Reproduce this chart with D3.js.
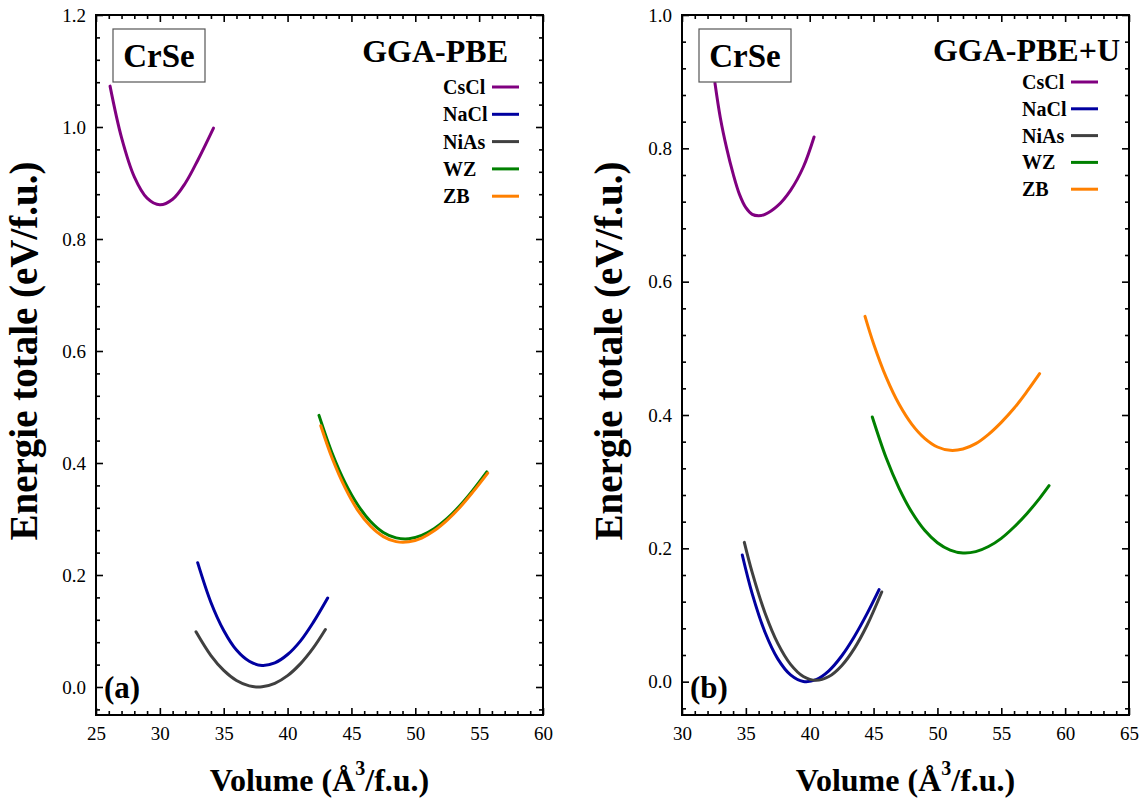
<!DOCTYPE html>
<html>
<head>
<meta charset="utf-8">
<script src="https://cdn.jsdelivr.net/npm/d3@7"></script>
<style>
  html, body { margin: 0; padding: 0; background: #fff; }
  svg { display: block; font-family: "Liberation Serif", "Times New Roman", serif; }
</style>
</head>
<body>
<svg id="chart" width="1146" height="802"></svg>
<script>
// Crystal structures, in legend order
const structures = ["CsCl", "NaCl", "NiAs", "WZ", "ZB"];
const structureColors = ["#800080", "#0000a0", "#404040", "#008000", "#ff8000"];

// (a) GGA-PBE : [volume (Å³/f.u.), total energy (eV/f.u.)]
const pbeCsCl = [[26.1,1.073],[27,0.981],[28,0.911],[29,0.873],[30,0.861],[31,0.871],[32,0.900],[33,0.942],[34.2,0.998]];
const pbeNaCl = [[32.96,0.222],[34,0.151],[35,0.101],[36,0.066],[37,0.046],[38,0.0385],[39,0.043],[40,0.058],[41,0.082],[42,0.115],[43.14,0.159]];
const pbeNiAs = [[32.83,0.0985],[34,0.056],[35,0.0296],[36,0.0116],[37,0.002],[38,0.0004],[39,0.0066],[40,0.0203],[41,0.0413],[42,0.0693],[42.96,0.1026]];
const pbeWZ   = [[42.46,0.485],[43.5,0.417],[44.5,0.365],[45.5,0.325],[46.5,0.2955],[47.5,0.276],[48.5,0.2663],[49.5,0.2647],[50.5,0.2706],[51.5,0.283],[52.5,0.301],[53.5,0.324],[54.5,0.351],[55.6,0.384]];
const pbeZB   = [[42.6,0.4666],[43.5,0.408],[44.5,0.356],[45.5,0.3155],[46.5,0.287],[47.5,0.2686],[48.5,0.2596],[49.5,0.2592],[50.5,0.266],[51.5,0.2793],[52.5,0.298],[53.5,0.321],[54.5,0.348],[55.67,0.382]];

// (b) GGA-PBE+U
const pbeuCsCl = [[32.58,0.898],[33,0.846],[33.5,0.800],[34,0.762],[34.5,0.731],[35,0.711],[35.5,0.701],[36,0.699],[36.5,0.701],[37.5,0.714],[38.5,0.737],[39.5,0.772],[40.34,0.817]];
const pbeuNaCl = [[34.72,0.190],[35.5,0.1317],[36.5,0.0741],[37.5,0.0342],[38.5,0.0102],[39.5,0.0004],[40.5,0.0031],[41.5,0.0163],[42.5,0.0385],[43.5,0.0678],[44.5,0.1024],[45.43,0.138]];
const pbeuNiAs = [[34.88,0.209],[35.5,0.1635],[36.5,0.103],[37.5,0.0574],[38.5,0.026],[39.5,0.0078],[40.5,0.002],[41.5,0.0077],[42.5,0.024],[43.5,0.050],[44.5,0.085],[45.64,0.1345]];
const pbeuWZ   = [[44.9,0.397],[46,0.335],[47,0.290],[48,0.254],[49,0.227],[50,0.2084],[51,0.1973],[52,0.193],[53,0.195],[54,0.2027],[55,0.215],[56,0.232],[57,0.252],[58,0.275],[58.74,0.294]];
const pbeuZB   = [[44.33,0.548],[45,0.507],[46,0.456],[47,0.416],[48,0.386],[49,0.365],[50,0.352],[51,0.347],[52,0.349],[53,0.357],[54,0.371],[55,0.389],[56,0.410],[57,0.435],[58,0.462]];

// Axis ticks
const xTicksA = [25, 30, 35, 40, 45, 50, 55, 60];
const yTicksA = [0.0, 0.2, 0.4, 0.6, 0.8, 1.0, 1.2];
const xTicksB = [30, 35, 40, 45, 50, 55, 60, 65];
const yTicksB = [0.0, 0.2, 0.4, 0.6, 0.8, 1.0];

const svg = d3.select("#chart");
const FONT = "'Liberation Serif', 'Times New Roman', serif";

function range(a, b, step) {
  const out = [];
  const n = Math.round((b - a) / step);
  for (let i = 0; i <= n; i++) out.push(+(a + i * step).toFixed(6));
  return out;
}

function drawPanel(p) {
  const g = svg.append("g");
  const x = d3.scaleLinear().domain(p.xDomain).range([p.left, p.right]);
  const y = d3.scaleLinear().domain(p.yDomain).range([p.bottom, p.top]);

  const xMinor = range(p.xDomain[0], p.xDomain[1], 1).filter(v => !p.xTicks.includes(v));
  const yMinor = range(-0.04, p.yDomain[1], 0.04).filter(v => !p.yTicks.some(t => Math.abs(t - v) < 1e-6));

  const styleAxis = sel => {
    sel.select(".domain").remove();
    sel.selectAll("line").attr("stroke", "#000").attr("stroke-width", 1.6);
  };
  const styleLabels = sel => sel.selectAll("text")
    .attr("font-family", FONT).attr("font-size", 19).attr("fill", "#000");

  // inward ticks on all four sides
  g.append("g").attr("transform", `translate(0,${p.bottom})`)
    .call(d3.axisBottom(x).tickValues(p.xTicks).tickSize(-7).tickFormat(d3.format("d")).tickPadding(12))
    .call(styleAxis).call(styleLabels);
  g.append("g").attr("transform", `translate(0,${p.bottom})`)
    .call(d3.axisBottom(x).tickValues(xMinor).tickSize(-4).tickFormat(""))
    .call(styleAxis);
  g.append("g").attr("transform", `translate(0,${p.top})`)
    .call(d3.axisTop(x).tickValues(p.xTicks).tickSize(-7).tickFormat(""))
    .call(styleAxis);
  g.append("g").attr("transform", `translate(0,${p.top})`)
    .call(d3.axisTop(x).tickValues(xMinor).tickSize(-4).tickFormat(""))
    .call(styleAxis);

  g.append("g").attr("transform", `translate(${p.left},0)`)
    .call(d3.axisLeft(y).tickValues(p.yTicks).tickSize(-7).tickFormat(d3.format(".1f")).tickPadding(10))
    .call(styleAxis).call(styleLabels);
  g.append("g").attr("transform", `translate(${p.left},0)`)
    .call(d3.axisLeft(y).tickValues(yMinor).tickSize(-4).tickFormat(""))
    .call(styleAxis);
  g.append("g").attr("transform", `translate(${p.right},0)`)
    .call(d3.axisRight(y).tickValues(p.yTicks).tickSize(-7).tickFormat(""))
    .call(styleAxis);
  g.append("g").attr("transform", `translate(${p.right},0)`)
    .call(d3.axisRight(y).tickValues(yMinor).tickSize(-4).tickFormat(""))
    .call(styleAxis);

  // frame
  g.append("rect")
    .attr("x", p.left).attr("y", p.top)
    .attr("width", p.right - p.left).attr("height", p.bottom - p.top)
    .attr("fill", "none").attr("stroke", "#000").attr("stroke-width", 2);

  // E(V) curves
  const line = d3.line().x(d => x(d[0])).y(d => y(d[1])).curve(d3.curveCatmullRom.alpha(0.5));
  p.series.forEach((s, i) => {
    g.append("path").datum(s)
      .attr("d", line)
      .attr("fill", "none")
      .attr("stroke", structureColors[i])
      .attr("stroke-width", 3)
      .attr("stroke-linecap", "round");
  });

  // compound box
  g.append("rect")
    .attr("x", p.left + 17).attr("y", p.top + 14)
    .attr("width", 92).attr("height", 53)
    .attr("fill", "#fff").attr("stroke", "#555").attr("stroke-width", 1.2);
  g.append("text")
    .attr("x", p.left + 17 + 46).attr("y", p.top + 52)
    .attr("text-anchor", "middle")
    .attr("font-family", FONT).attr("font-weight", "bold").attr("font-size", 33)
    .text("CrSe");

  // method title
  g.append("text")
    .attr("x", p.titleX).attr("y", p.titleY)
    .attr("text-anchor", "end")
    .attr("font-family", FONT).attr("font-weight", "bold").attr("font-size", 32)
    .text(p.title);

  // legend
  structures.forEach((name, i) => {
    const cy = p.legendY + i * p.legendStep;
    g.append("text")
      .attr("x", p.legendX).attr("y", cy + 7)
      .attr("font-family", FONT).attr("font-weight", "bold").attr("font-size", 20)
      .text(name);
    g.append("line")
      .attr("x1", p.legendLineX).attr("x2", p.legendLineX + 27)
      .attr("y1", cy).attr("y2", cy)
      .attr("stroke", structureColors[i]).attr("stroke-width", 3);
  });

  // panel letter
  g.append("text")
    .attr("x", p.left + 8).attr("y", p.bottom - 17)
    .attr("font-family", FONT).attr("font-weight", "bold").attr("font-size", 31)
    .text(p.letter);

  // axis titles
  const xt = g.append("text")
    .attr("x", (p.left + p.right) / 2).attr("y", 791)
    .attr("text-anchor", "middle")
    .attr("font-family", FONT).attr("font-weight", "bold").attr("font-size", 32);
  xt.append("tspan").text("Volume (Å");
  xt.append("tspan").attr("font-size", 20).attr("dy", -16).text("3");
  xt.append("tspan").attr("dy", 16).text("/f.u.)");

  g.append("text")
    .attr("transform", `translate(${p.yTitleX},${(p.top + p.bottom) / 2 - 14}) rotate(-90)`)
    .attr("text-anchor", "middle")
    .attr("font-family", FONT).attr("font-weight", "bold").attr("font-size", 39)
    .text("Energie totale (eV/f.u.)");
}

drawPanel({
  left: 96, right: 543, top: 15, bottom: 715,
  xDomain: [25, 60], yDomain: [-0.05, 1.2],
  xTicks: xTicksA, yTicks: yTicksA,
  series: [pbeCsCl, pbeNaCl, pbeNiAs, pbeWZ, pbeZB],
  title: "GGA-PBE", titleX: 508, titleY: 62,
  legendX: 443, legendLineX: 492, legendY: 87, legendStep: 27.3,
  letter: "(a)", yTitleX: 37
});

drawPanel({
  left: 682, right: 1129, top: 15, bottom: 715,
  xDomain: [30, 65], yDomain: [-0.05, 1.0],
  xTicks: xTicksB, yTicks: yTicksB,
  series: [pbeuCsCl, pbeuNaCl, pbeuNiAs, pbeuWZ, pbeuZB],
  title: "GGA-PBE+U", titleX: 1120, titleY: 61,
  legendX: 1022, legendLineX: 1071, legendY: 82, legendStep: 26.8,
  letter: "(b)", yTitleX: 622
});
</script>
</body>
</html>
